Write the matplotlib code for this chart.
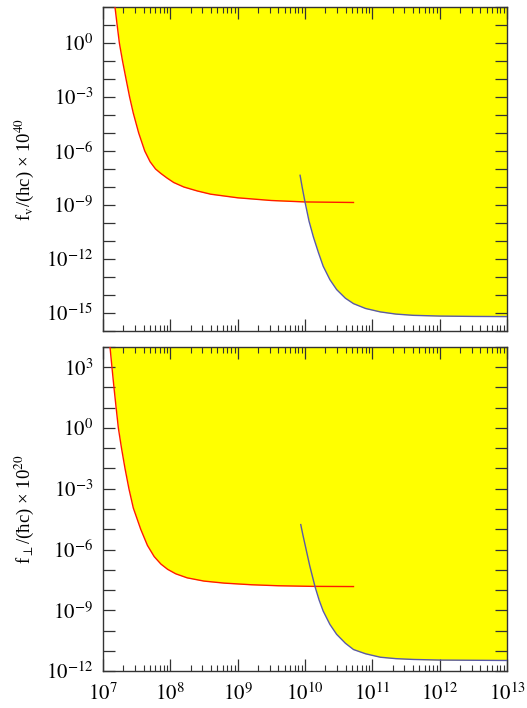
import numpy as np
import matplotlib
matplotlib.use("Agg")
import matplotlib.pyplot as plt
from matplotlib.ticker import FixedLocator, LogLocator, NullFormatter, FixedFormatter

plt.rcParams['font.family'] = ['Liberation Serif', 'DejaVu Serif']
plt.rcParams['mathtext.fontset'] = 'stix'

# ---- data (log10 values) ----
# top panel (f_v)
top_red_logx = [7.15, 7.178, 7.21, 7.243, 7.29, 7.342, 7.395, 7.45, 7.53, 7.62, 7.70, 7.78, 7.86, 7.95, 8.05, 8.2, 8.4, 8.6, 9.0, 9.5, 10.0, 10.72]
top_red_logf = [2.6, 2.0, 1.0, 0.0, -1.0, -2.0, -3.0, -3.9, -5.0, -6.0, -6.6, -7.0, -7.25, -7.5, -7.75, -8.0, -8.22, -8.4, -8.6, -8.75, -8.83, -8.86]
top_blue_logx = [9.927, 9.96, 10.0, 10.06, 10.125, 10.2, 10.27, 10.37, 10.47, 10.6, 10.72, 10.9, 11.12, 11.35, 11.61, 12.0, 12.5, 13.0]
top_blue_logf = [-7.35, -8.05, -8.83, -9.9, -10.78, -11.65, -12.4, -13.15, -13.7, -14.18, -14.48, -14.75, -14.94, -15.06, -15.13, -15.17, -15.19, -15.2]

# bottom panel (f_perp)
bot_red_logx = [7.08, 7.104, 7.133, 7.163, 7.195, 7.228, 7.275, 7.327, 7.385, 7.45, 7.56, 7.66, 7.76, 7.86, 7.96, 8.08, 8.25, 8.5, 8.8, 9.2, 9.6, 10.1, 10.72]
bot_red_logf = [4.5, 4.0, 3.0, 2.0, 1.0, 0.0, -1.0, -2.0, -3.0, -3.95, -5.0, -5.8, -6.35, -6.72, -6.98, -7.2, -7.4, -7.56, -7.66, -7.74, -7.79, -7.82, -7.83]
bot_blue_logx = [9.937, 9.97, 10.0, 10.07, 10.15, 10.21, 10.27, 10.37, 10.47, 10.6, 10.72, 10.9, 11.12, 11.35, 11.61, 12.0, 12.5, 13.0]
bot_blue_logf = [-4.77, -5.3, -5.75, -6.8, -7.85, -8.5, -9.04, -9.7, -10.19, -10.63, -10.94, -11.15, -11.32, -11.39, -11.43, -11.46, -11.47, -11.48]

x_ticks_exp = [7, 8, 9, 10, 11, 12, 13]
top_ylim_exp = (-16, 2)
bot_ylim_exp = (-12, 4)

top_ylabel = r'f$_\mathrm{v}$/(hc) × 10$^{40}$'
bot_ylabel = r'f$_\perp$/(ħc) × 10$^{20}$'

RED = '#ff1a00'
BLUE = '#5a5aa8'
YELLOW = '#ffff00'
FRAME = '#333333'

fig = plt.figure(figsize=(5.27, 7.08), dpi=100)
W, H = 527, 708
def axes_px(l, t, r, b):
    return fig.add_axes([l / W, 1 - b / H, (r - l) / W, (b - t) / H])

ax1 = axes_px(103, 7, 507, 331)
ax2 = axes_px(103, 347, 507, 671)

panels = [
    (ax1, top_red_logx, top_red_logf, top_blue_logx, top_blue_logf, top_ylim_exp, top_ylabel, False),
    (ax2, bot_red_logx, bot_red_logf, bot_blue_logx, bot_blue_logf, bot_ylim_exp, bot_ylabel, True),
]

for ax, rx, rf, bx, bf, ylim, ylabel, show_x in panels:
    rx_v = 10.0 ** np.array(rx); rf_v = 10.0 ** np.array(rf)
    bx_v = 10.0 ** np.array(bx); bf_v = 10.0 ** np.array(bf)
    ytop = 10.0 ** (ylim[1] + 1)
    ax.fill_between(rx_v, rf_v, ytop, color=YELLOW, lw=0, zorder=1)
    ax.fill_between(bx_v, bf_v, ytop, color=YELLOW, lw=0, zorder=1)
    ax.plot(rx_v, rf_v, color=RED, lw=1.0, zorder=3)
    ax.plot(bx_v, bf_v, color=BLUE, lw=1.0, zorder=3)
    ax.set_xscale('log'); ax.set_yscale('log')
    ax.set_xlim(10.0 ** x_ticks_exp[0], 10.0 ** x_ticks_exp[-1])
    ax.set_ylim(10.0 ** ylim[0], 10.0 ** ylim[1])

    # y ticks every decade, labels every third decade
    exps = list(range(ylim[0], ylim[1] + 1))
    ax.yaxis.set_major_locator(FixedLocator([10.0 ** e for e in exps]))
    ax.yaxis.set_major_formatter(FixedFormatter(
        [r'$10^{%d}$' % e if e % 3 == 0 else '' for e in exps]))
    ax.yaxis.set_minor_locator(FixedLocator([]))

    ax.xaxis.set_major_locator(FixedLocator([10.0 ** e for e in x_ticks_exp]))
    ax.xaxis.set_minor_locator(LogLocator(base=10, subs=np.arange(2, 10), numticks=100))
    ax.xaxis.set_minor_formatter(NullFormatter())
    if show_x:
        ax.xaxis.set_major_formatter(FixedFormatter([r'$10^{%d}$' % e for e in x_ticks_exp]))
    else:
        ax.xaxis.set_major_formatter(NullFormatter())

    ax.tick_params(which='major', direction='in', length=8.5, width=0.9, color=FRAME,
                   top=True, right=True, labelsize=15, pad=7)
    ax.tick_params(axis='x', which='major', pad=9)
    ax.tick_params(which='minor', direction='in', length=4, width=0.8, color=FRAME,
                   top=True, right=True)
    for s in ax.spines.values():
        s.set_color(FRAME); s.set_linewidth(1.0)
    ax.set_ylabel(ylabel, fontsize=13.5)
    ax.yaxis.set_label_coords(-0.165, 0.5)

fig.savefig('out.png', dpi=100)
